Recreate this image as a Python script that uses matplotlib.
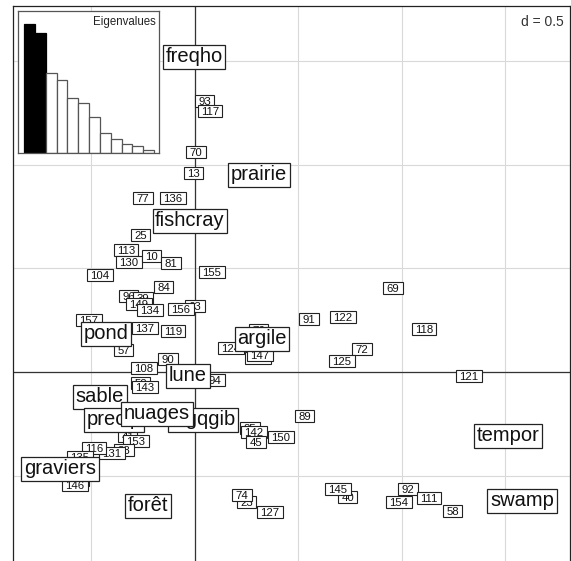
import matplotlib
matplotlib.use("Agg")
import matplotlib.pyplot as plt
from matplotlib.patches import Rectangle
from matplotlib.transforms import offset_copy

plt.rcParams['font.family'] = ['Liberation Sans', 'DejaVu Sans']

# Row scores (site numbers)
row_labels = ["93", "117", "70", "13", "136", "77", "25", "113", "130", "10", "81", "104",
              "155", "84", "96", "39", "149", "134", "63", "156", "157", "137", "119", "57",
              "90", "108", "52", "143", "94", "41", "153", "38", "131", "116", "135", "148",
              "146", "76", "124", "144", "147", "91", "122", "72", "125", "69", "118", "121",
              "89", "85", "142", "45", "150", "23", "74", "127", "40", "145", "92", "154",
              "111", "58"]
row_x = [0.048, 0.072, 0.005, -0.005, -0.106, -0.251, -0.261, -0.333, -0.319, -0.208, -0.116, -0.459,
         0.082, -0.150, -0.321, -0.251, -0.271, -0.217, 0.000, -0.068, -0.512, -0.242, -0.106, -0.343,
         -0.130, -0.246, -0.261, -0.242, 0.097, -0.324, -0.285, -0.343, -0.401, -0.488, -0.556, -0.575,
         -0.580, 0.309, 0.174, 0.304, 0.314, 0.551, 0.715, 0.807, 0.710, 0.957, 1.106, 1.324,
         0.531, 0.266, 0.285, 0.295, 0.415, 0.251, 0.227, 0.362, 0.739, 0.691, 1.029, 0.986,
         1.130, 1.246]
row_y = [1.309, 1.261, 1.063, 0.961, 0.841, 0.841, 0.662, 0.589, 0.531, 0.560, 0.527, 0.469,
         0.483, 0.411, 0.367, 0.357, 0.329, 0.300, 0.319, 0.304, 0.251, 0.213, 0.198, 0.106,
         0.063, 0.019, -0.053, -0.072, -0.039, -0.309, -0.333, -0.377, -0.391, -0.367, -0.411, -0.522,
         -0.546, 0.203, 0.116, 0.068, 0.082, 0.256, 0.266, 0.111, 0.053, 0.406, 0.208, -0.019,
         -0.213, -0.271, -0.290, -0.338, -0.314, -0.628, -0.594, -0.676, -0.604, -0.565, -0.565, -0.628,
         -0.609, -0.671]

# Column scores (variables)
col_labels = ["freqho", "prairie", "fishcray", "pond", "argile", "sable", "precip",
              "logqgib", "nuages", "lune", "graviers", "forêt", "tempor", "swamp"]
col_x = [-0.005, 0.309, -0.024, -0.430, 0.324, -0.459, -0.391,
         0.039, -0.184, -0.034, -0.652, -0.227, 1.512, 1.580]
col_y = [1.522, 0.952, 0.729, 0.184, 0.159, -0.121, -0.232,
         -0.232, -0.203, -0.019, -0.469, -0.647, -0.309, -0.623]

# Eigenvalues (screeplot inset), first two axes kept
eigenvalues = [3.83, 3.56, 2.38, 2.16, 1.65, 1.48, 1.06, 0.61, 0.43, 0.28, 0.20, 0.08]
n_kept = 2

grid_values = [-0.5, 0.0, 0.5, 1.0, 1.5]

W, H = 571, 561
fig = plt.figure(figsize=(W / 100, H / 100), dpi=100)
fig.patch.set_facecolor("white")

ax = fig.add_axes([13 / W, 0, 557 / W, 555 / H])
ax.set_xlim(-0.879, 1.812)
ax.set_ylim(-0.913, 1.768)
ax.set_xticks([])
ax.set_yticks([])
for sp in ax.spines.values():
    sp.set_color("#222222")
    sp.set_linewidth(0.9)
ax.spines["bottom"].set_visible(False)

# grid and origin axes
for v in grid_values:
    ax.axvline(v, color="#d9d9d9", lw=0.8, zorder=0)
    ax.axhline(v, color="#d9d9d9", lw=0.8, zorder=0)
ax.axvline(0, color="#333333", lw=0.9, zorder=1)
ax.axhline(0, color="#333333", lw=0.9, zorder=1)

# label styles: font size, horizontal padding (px), box height (px),
# baseline offset below the box centre (px), border width
label_sets = [
    (row_labels, row_x, row_y, 8.2, 3.2, 12.0, 4.1, 0.8, 10),
    (col_labels, col_x, col_y, 14.5, 2.6, 24.0, 5.3, 0.9, 500),
]
placed = []
for labels, xs, ys, fs, padx, boxh, base, lw, z0 in label_sets:
    tr = offset_copy(ax.transData, fig=fig, x=0, y=-base, units="dots")
    for i, (lab, x, y) in enumerate(zip(labels, xs, ys)):
        t = ax.text(x, y, lab, ha="center", va="baseline", fontsize=fs,
                    color="#111111", zorder=z0 + 2 * i + 1, transform=tr)
        placed.append((t, x, y, padx, boxh, lw, z0 + 2 * i))

fig.canvas.draw()
renderer = fig.canvas.get_renderer()
inv = ax.transData.inverted()
for t, x, y, padx, boxh, lw, z in placed:
    bb = t.get_window_extent(renderer)
    cx, cy = ax.transData.transform((x, y))
    x0, y0 = inv.transform((bb.x0 - padx, cy - boxh / 2))
    x1, y1 = inv.transform((bb.x1 + padx, cy + boxh / 2))
    ax.add_patch(Rectangle((x0, y0), x1 - x0, y1 - y0, facecolor="white",
                           edgecolor="#222222", lw=lw, zorder=z))

ax.text(0.988, 0.984, "d = 0.5", transform=ax.transAxes, ha="right", va="top",
        fontsize=10, color="#333333", zorder=2000,
        bbox=dict(boxstyle="square,pad=0.2", fc="white", ec="none"))

# eigenvalue inset
ins = fig.add_axes([18 / W, (H - 153) / H, 141 / W, 142 / H])
ins.set_zorder(10)
ins.set_facecolor("white")
idx = list(range(len(eigenvalues)))
colors = ["black" if i < n_kept else "white" for i in idx]
edges = ["black" if i < n_kept else "#555555" for i in idx]
ins.bar(idx, eigenvalues, width=1.0, color=colors, edgecolor=edges, linewidth=0.9)
ins.set_xlim(-1.05, len(eigenvalues) - 0.05)
ins.set_ylim(0, max(eigenvalues) * 1.104)
ins.set_xticks([])
ins.set_yticks([])
for sp in ins.spines.values():
    sp.set_color("#555555")
    sp.set_linewidth(0.9)
ins.text(0.975, 0.965, "Eigenvalues", transform=ins.transAxes, ha="right", va="top",
         fontsize=8.3, color="#222222")

fig.savefig("out.png", dpi=100, facecolor="white")
